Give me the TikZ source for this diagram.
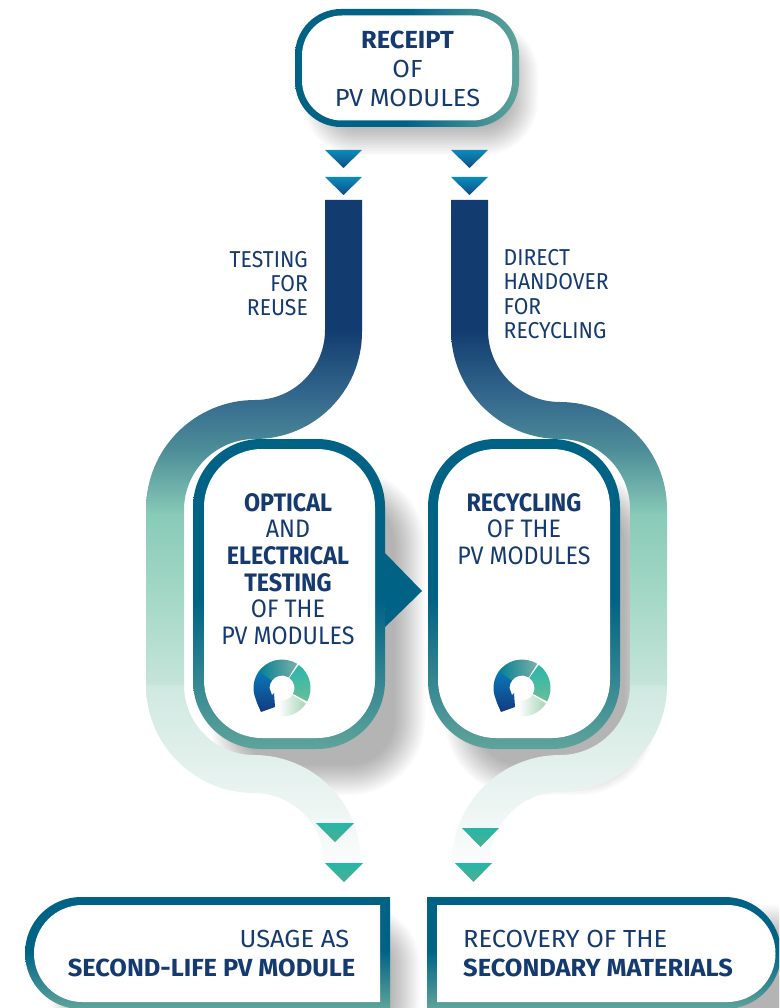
\documentclass[tikz,border=0pt]{standalone}
\usepackage{fontspec}
\setmainfont{Fira Sans}[FakeStretch=0.92]
\newfontfamily\widefam{Fira Sans}[FakeStretch=1.03]
\definecolor{cblue}{HTML}{006386}
\definecolor{cgreen}{HTML}{5FA49B}
\definecolor{navy}{HTML}{143A70}
\definecolor{rA}{HTML}{123C70}
\definecolor{rB}{HTML}{366B8E}
\definecolor{rC}{HTML}{4D8D98}
\definecolor{rD}{HTML}{88CBB7}
\definecolor{rE}{HTML}{A5D8C7}
\definecolor{rF}{HTML}{C5E4DA}
\definecolor{rG}{HTML}{CFE9E1}
\definecolor{rH}{HTML}{E2F0EC}
\definecolor{rI}{HTML}{F3F8F7}
\pgfdeclareverticalshading{ribbonshade}{100bp}{color(0bp)=(white); color(25bp)=(white); color(28.8bp)=(rI); color(33.9bp)=(rH); color(39.4bp)=(rG); color(39.5bp)=(rF); color(45.7bp)=(rE); color(51.9bp)=(rD); color(56.7bp)=(rC); color(60.3bp)=(rB); color(65.5bp)=(rA); color(100bp)=(rA)}
\pgfdeclareverticalshading{boxshade}{100bp}{color(0bp)=(cgreen); color(25bp)=(cgreen); color(49bp)=(cblue); color(100bp)=(cblue)}
\pgfdeclareverticalshading{lowshade}{100bp}{color(0bp)=(cgreen); color(25bp)=(cgreen); color(51bp)=(cblue); color(100bp)=(cblue)}
\pgfdeclarehorizontalshading{topshade}{100bp}{color(0bp)=(cblue); color(50bp)=(cblue); color(75bp)=(cgreen); color(100bp)=(cgreen)}
\definecolor{HTMLa}{HTML}{0A8CBA}
\definecolor{HTMLb}{HTML}{0F4D85}
\definecolor{HTMLc}{HTML}{25B6A8}
\definecolor{HTMLd}{HTML}{4FAE90}
\definecolor{sA}{HTML}{007F92}
\definecolor{sB}{HTML}{7AAFA9}
\definecolor{sC}{HTML}{2BB5AA}
\definecolor{sD}{HTML}{68BE98}
\definecolor{sE}{HTML}{A8D5B5}
\definecolor{sF}{HTML}{0A7AB5}
\definecolor{sG}{HTML}{123A80}
\tikzset{
  ribbon/.style={shading=ribbonshade},
  bluetri/.style={top color=HTMLa, bottom color=HTMLb},
  greentri/.style={top color=HTMLc, bottom color=HTMLd},
  txt/.style={text=navy, inner sep=0pt, font=\fontsize{25.3}{26.6}\selectfont},
  toptxt/.style={txt, font=\widefam\fontsize{24.7}{29}\selectfont, align=center},
  sidetxt/.style={txt, font=\fontsize{23}{24.2}\selectfont},
  lowtxt/.style={txt, font=\widefam\fontsize{24.7}{29}\selectfont},
}
% soft shadow: x1 y1 x2 y2 radius opacity
\newcommand\softshadow[6]{%
  \foreach \i in {0,2,...,30}{
    \pgfmathsetmacro\rr{#5+\i}
    \fill[black, opacity=#6, rounded corners=\rr] ({#1-\i},{#2+\i}) rectangle ({#3+\i},{#4-\i});
  }}
\newcommand\recyclelogo[1]{%
  \begin{scope}[shift={#1}]
    \path[left color=sA, right color=sB] (148:28.5) arc[start angle=148,end angle=58,radius=28.5] -- (58:12.5) arc[start angle=58,end angle=148,radius=12.5] -- cycle;
    \path[top color=sC, bottom color=sD] (54:28.5) arc[start angle=54,end angle=-28,radius=28.5] -- (-28:12.5) arc[start angle=-28,end angle=54,radius=12.5] -- cycle;
    \path[left color=white, right color=sE] (-33:28.5) arc[start angle=-33,end angle=-98,radius=28.5] -- (-98:12.5) arc[start angle=-98,end angle=-33,radius=12.5] -- cycle;
    \path[top color=sF, bottom color=sG] (144:28.5) arc[start angle=144,end angle=195,radius=28.5] -- (-25,-15) -- (-21,-24) -- (-7,-19) -- (-8,-5) -- (-10,-7) -- (-12.5,0) arc[start angle=180,end angle=144,radius=12.5] -- cycle;
  \end{scope}}
\begin{document}
\begin{tikzpicture}[x=1pt,y=1pt]
\useasboundingbox (0,0) rectangle (779,-1008);
\clip (0,0) rectangle (779,-1008);
\fill[white] (0,0) rectangle (779,-1008);
% shadows
\softshadow{333}{-50}{508}{-125}{24}{0.02}
\softshadow{240}{-500}{395}{-765}{45}{0.02}
\softshadow{475}{-500}{625}{-765}{45}{0.02}
\softshadow{80}{-935}{390}{-1030}{30}{0.02}
\softshadow{465}{-935}{800}{-1030}{30}{0.02}
% ribbons
\path[ribbon] (325,-200) -- (325,-330) arc[start angle=0,end angle=-90,radius=70] arc[start angle=90,end angle=180,radius=109] -- (146,-685) arc[start angle=180,end angle=270,radius=108] arc[start angle=90,end angle=0,radius=70] -- (324,-882) -- (361,-882) -- (361,-862) arc[start angle=0,end angle=90,radius=107] arc[start angle=270,end angle=180,radius=70] -- (184,-510) arc[start angle=180,end angle=90,radius=71] arc[start angle=-90,end angle=0,radius=107] -- (362,-200) -- cycle;
\path[ribbon] (488,-200) -- (488,-330) arc[start angle=180,end angle=270,radius=72] arc[start angle=90,end angle=0,radius=107] -- (667,-685) arc[start angle=0,end angle=-90,radius=107] arc[start angle=90,end angle=180,radius=70] -- (490,-882) -- (452,-882) -- (452,-863) arc[start angle=180,end angle=90,radius=108] arc[start angle=-90,end angle=0,radius=70] -- (630,-509) arc[start angle=0,end angle=90,radius=70] arc[start angle=270,end angle=180,radius=109] -- (451,-200) -- cycle;
% top box
\path[shading=topshade, rounded corners=46] (295,-9) rectangle (519,-127);
\fill[white, rounded corners=40] (302,-15.5) rectangle (512,-120.5);
\node[toptxt] (receipt) at (407.5,-69) {\textbf{RECEIPT}\\OF\\PV MODULES};
% upper triangles
\path[bluetri] (325,-150) -- (362,-150) -- (343.5,-168) -- cycle;
\path[bluetri] (325,-177) -- (362,-177) -- (343.5,-195) -- cycle;
\path[bluetri] (451,-150) -- (488,-150) -- (469.5,-168) -- cycle;
\path[bluetri] (451,-177) -- (488,-177) -- (469.5,-195) -- cycle;
% side labels
\node[sidetxt, align=right, anchor=east] (testing) at (308,-283.5) {TESTING\\FOR\\REUSE};
\node[sidetxt, align=left, anchor=west] (direct) at (503.5,-294) {DIRECT\\HANDOVER\\FOR\\RECYCLING};
% middle boxes
\fill[cblue] (380,-553) -- (385,-553) -- (422,-591) -- (380,-632) -- cycle;
\path[shading=boxshade, rounded corners=68] (193,-439) rectangle (385,-749);
\fill[white, rounded corners=58] (204,-449) rectangle (375,-738);
\path[shading=boxshade, rounded corners=68] (428,-439) rectangle (620,-749);
\fill[white, rounded corners=58] (438,-449) rectangle (610,-738);
\node[txt, align=center] (optical) at (288,-569) {\textbf{OPTICAL}\\AND\\\textbf{ELECTRICAL}\\\textbf{TESTING}\\OF THE\\PV MODULES};
\node[txt, align=center] (recycling) at (524,-529) {\textbf{RECYCLING}\\OF THE\\PV MODULES};
\recyclelogo{(282,-688)}
\recyclelogo{(522,-688)}
% lower triangles
\path[greentri] (316,-823) -- (354,-823) -- (335,-842) -- cycle;
\path[greentri] (325,-863) -- (363,-863) -- (344,-882) -- cycle;
\path[greentri] (462,-828) -- (499,-828) -- (480.5,-847) -- cycle;
\path[greentri] (455,-863) -- (492,-863) -- (473.5,-882) -- cycle;
% bottom boxes
\path[shading=lowshade] (390,-897) -- (81,-897) arc[start angle=90,end angle=270,radius=56] -- (390,-1009) -- cycle;
\fill[white] (380,-905) -- (82.5,-905) arc[start angle=90,end angle=270,radius=48.5] -- (380,-1002) -- cycle;
\path[shading=lowshade] (427,-897) -- (725,-897) arc[start angle=90,end angle=-90,radius=56] -- (427,-1009) -- cycle;
\fill[white] (437,-905) -- (727,-905) arc[start angle=90,end angle=-90,radius=48.5] -- (437,-1002) -- cycle;
\node[lowtxt, align=right, anchor=east] (usage) at (355.5,-953.5) {USAGE AS\hspace*{6pt}\\\textbf{SECOND-LIFE PV MODULE}};
\node[lowtxt, align=left, anchor=west] (recovery) at (463,-953.5) {RECOVERY OF THE\\\textbf{SECONDARY MATERIALS}};
\end{tikzpicture}
\end{document}
